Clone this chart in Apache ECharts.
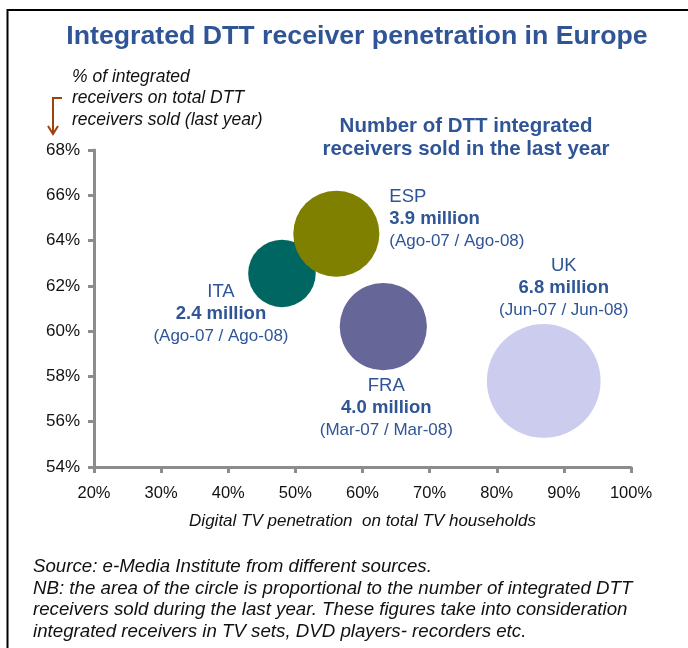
<!DOCTYPE html>
<html>
<head>
<meta charset="utf-8">
<script src="https://cdn.jsdelivr.net/npm/echarts@6/dist/echarts.min.js"></script>
<style>html,body{margin:0;padding:0;background:#fff}#c{width:688px;height:648px}</style>
</head>
<body>
<div id="c"></div>
<script>
// ---- data ----
var countries = ['ITA', 'ESP', 'FRA', 'UK'];
var tvPenetration = [48.0, 56.1, 63.1, 87.0];          // x, % of TV households
var integratedShare = [62.55, 64.3, 60.2, 57.8];      // y, % integrated receivers
var receiversSold = [2.4, 3.9, 4.0, 6.8];             // million, bubble area
var periods = ['(Ago-07 / Ago-08)', '(Ago-07 / Ago-08)', '(Mar-07 / Mar-08)', '(Jun-07 / Jun-08)'];
var colors = ['#006661', '#808000', '#666699', '#CCCCEE'];
var xTicks = [20, 30, 40, 50, 60, 70, 80, 90, 100];
var yTicks = [54, 56, 58, 60, 62, 64, 66, 68];

var BLUE = '#2F5597';
var FONT = '"Liberation Sans", Arial, sans-serif';
var labelLayout = {
  ITA: {offset: [-61, 41], align: 'center'},
  ESP: {offset: [53, -14], align: 'left'},
  FRA: {offset: [3, 82], align: 'center'},
  UK:  {offset: [20, -93], align: 'center'}
};

var chart = echarts.init(document.getElementById('c'), null, {renderer: 'canvas'});
var data = countries.map(function (c, i) {
  var L = labelLayout[c];
  return {
    name: c,
    value: [tvPenetration[i], integratedShare[i], receiversSold[i]],
    itemStyle: {color: colors[i]},
    label: {
      show: true,
      position: 'inside',
      offset: L.offset,
      align: L.align,
      verticalAlign: 'middle',
      formatter: '{a|' + c + '}\n{b|' + receiversSold[i].toFixed(1) + ' million}\n{c|' + periods[i] + '}',
      rich: {
        a: {fontFamily: FONT, fontSize: 18.5, color: BLUE, lineHeight: 22, align: L.align},
        b: {fontFamily: FONT, fontSize: 18.5, fontWeight: 'bold', color: BLUE, lineHeight: 22, align: L.align},
        c: {fontFamily: FONT, fontSize: 17, color: BLUE, lineHeight: 23, align: L.align}
      }
    }
  };
});

var axisLineStyle = {color: '#8C8C8C', width: 3};
var option = {
  animation: false,
  backgroundColor: '#fff',
  grid: {left: 94, right: 57, top: 150, bottom: 181, containLabel: false},
  xAxis: {
    type: 'value', min: xTicks[0], max: xTicks[xTicks.length - 1], interval: 10,
    splitLine: {show: false},
    axisLine: {show: true, lineStyle: axisLineStyle},
    axisTick: {show: true, length: 6, lineStyle: {color: '#8C8C8C', width: 3}},
    axisLabel: {margin: 18, fontFamily: FONT, fontSize: 16.5, color: '#111',
      formatter: '{value}%'},
    name: 'Digital TV penetration  on total TV households',
    nameLocation: 'middle', nameGap: 46,
    nameTextStyle: {fontFamily: FONT, fontSize: 17, fontStyle: 'italic', color: '#111'}
  },
  yAxis: {
    type: 'value', min: yTicks[0], max: yTicks[yTicks.length - 1], interval: 2,
    splitLine: {show: false},
    axisLine: {show: true, lineStyle: axisLineStyle},
    axisTick: {show: true, length: 6, lineStyle: {color: '#8C8C8C', width: 3}},
    axisLabel: {margin: 14, fontFamily: FONT, fontSize: 17, color: '#111',
      formatter: '{value}%'}
  },
  series: [{
    type: 'scatter',
    data: data,
    symbol: 'circle',
    symbolSize: function (v) { return 43.6 * Math.sqrt(v[2]); },
    itemStyle: {opacity: 1},
    emphasis: {disabled: true},
    z: 3
  }],
  graphic: [
    // frame
    {type: 'polyline', shape: {points: [[7.5, 648], [7.5, 10], [688, 10]]}, style: {stroke: '#000', lineWidth: 2, fill: null}},
    // title
    {type: 'text', x: 357, y: 37, style: {text: 'Integrated DTT receiver penetration in Europe',
      font: 'bold 26.7px ' + FONT, fill: BLUE, align: 'center', verticalAlign: 'middle'}},
    // y axis description
    {type: 'text', x: 72, y: 66, style: {text: '% of integrated\nreceivers on total DTT\nreceivers sold (last year)',
      font: 'italic 17.5px ' + FONT, fill: '#111', lineHeight: 21.5}},
    // arrow
    {type: 'polyline', shape: {points: [[62, 98], [53, 98], [53, 133]]}, style: {stroke: '#A0410D', lineWidth: 2, fill: null}},
    {type: 'polyline', shape: {points: [[48, 126], [53, 134], [58, 126]]}, style: {stroke: '#A0410D', lineWidth: 2, fill: null}},
    // bubble legend title
    {type: 'text', x: 466, y: 115, style: {text: 'Number of DTT integrated\nreceivers sold in the last year',
      font: 'bold 20.5px ' + FONT, fill: BLUE, align: 'center', lineHeight: 23}},
    // footer
    {type: 'text', x: 33, y: 556, style: {text: 'Source: e-Media Institute from different sources.\nNB: the area of the circle is proportional to the number of integrated DTT\nreceivers sold during the last year. These figures take into consideration\nintegrated receivers in TV sets, DVD players- recorders etc.',
      font: 'italic 18.7px ' + FONT, fill: '#111', lineHeight: 21.7}}
  ]
};
chart.setOption(option);
</script>
</body>
</html>
